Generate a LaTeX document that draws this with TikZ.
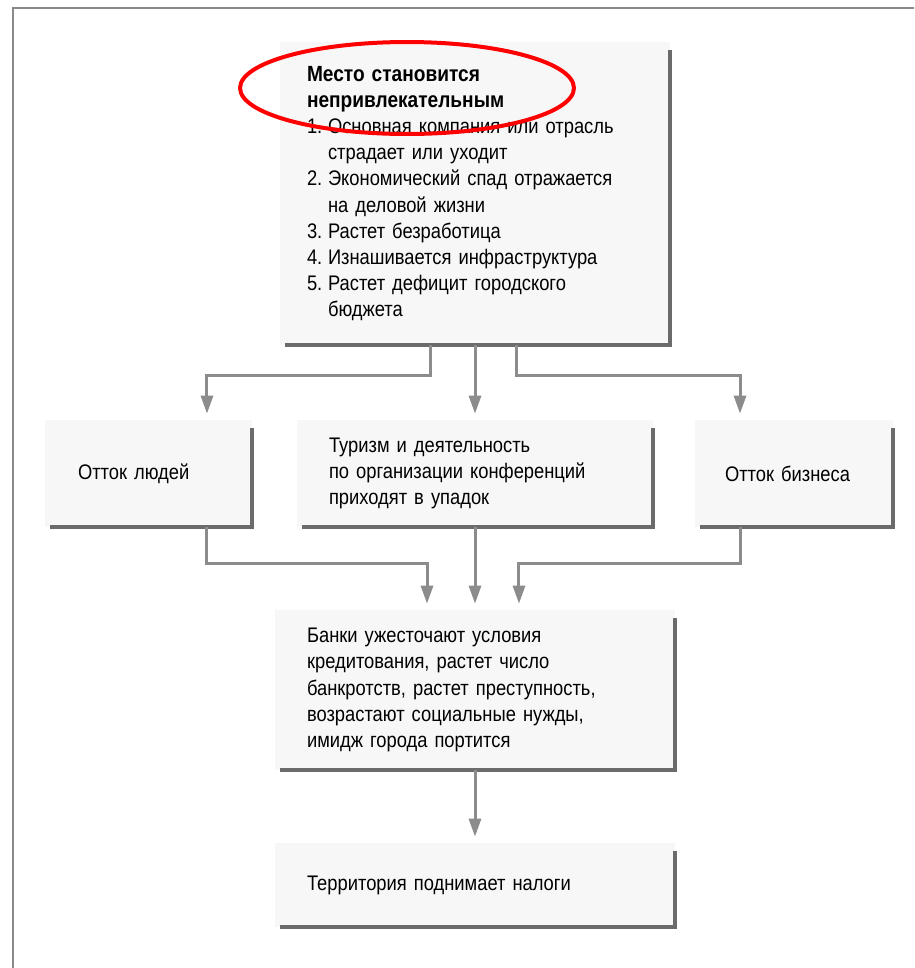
\documentclass[tikz,border=0pt]{standalone}
\usepackage{fontspec}
\setmainfont{Liberation Sans}[FakeStretch=0.87]
\usepackage{xcolor}
\usepackage{tikz}
\usetikzlibrary{arrows.meta,calc,positioning}
\definecolor{rimgray}{gray}{0.42}
\definecolor{arrgray}{gray}{0.55}
\definecolor{panelfill}{gray}{0.968}
\newcommand{\nr}[1]{\makebox[0.42cm][l]{#1}}

\begin{document}
\begin{tikzpicture}[x=0.02cm,y=-0.02cm,
  panel/.style={fill=panelfill,align=left,inner ysep=0pt,inner xsep=0.64cm,
                font=\fontsize{12}{14.9}\selectfont},
  rim/.style={draw=rimgray,line width=0.08cm},
  arr/.style={draw=arrgray,line width=0.06cm,shorten >=0.12cm,
              -{Triangle[length=0.36cm,width=0.24cm]}}]
  \useasboundingbox (0,0) rectangle (914,968);
  \draw[draw=rimgray!80,line width=0.045cm] (13,968) -- (13,8) -- (914,8);
  % boxes
  \node[panel,text width=6.72cm,minimum height=6.06cm,inner xsep=0.54cm] (top) at (475,193.5)
    {{\fontsize{12.5}{15.9}\selectfont\bfseries Место становится\\ непривлекательным}\\
     \nr{1.}Основная компания или отрасль\\ \nr{}страдает или уходит\\
     \nr{2.}Экономический спад отражается\\ \nr{}на деловой жизни\\
     \nr{3.}Растет безработица\\
     \nr{4.}Изнашивается инфраструктура\\
     \nr{5.}Растет дефицит городского\\ \nr{}бюджета};
  \node[panel,text width=2.82cm,minimum height=2.14cm,inner xsep=0.66cm] (left) at (148.5,473.5) {Отток людей};
  \node[panel,text width=5.84cm,minimum height=2.14cm] (mid) at (475,473.5)
    {Туризм и деятельность\\ по организации конференций\\ приходят в упадок};
  \node[panel,text width=2.76cm,minimum height=2.14cm,inner xsep=0.6cm] (right) at (794,473.5) {Отток бизнеса};
  \node[panel,text width=6.72cm,minimum height=3.2cm] (banks) at (475,690)
    {Банки ужесточают условия\\ кредитования, растет число\\ банкротств, растет преступность,\\
     возрастают социальные нужды,\\ имидж города портится};
  \node[panel,text width=6.72cm,minimum height=1.68cm] (taxes) at (475,885) {Территория поднимает налоги};
  \foreach \n in {top,left,mid,right,banks,taxes}
    \draw[rim] ([yshift=-0.16cm]\n.north east) -- (\n.south east) -- ([xshift=0.1cm]\n.south west);
  % connectors
  \draw[arr] ([xshift=-0.9cm]top.south) -- ++(0,30) -| ([xshift=1.17cm]left.north);
  \draw[arr] (top.south) -- (mid.north);
  \draw[arr] ([xshift=0.84cm]top.south) -- ++(0,30) -| ([xshift=-1.08cm]right.north);
  \draw[arr] ([xshift=1.17cm]left.south) -- ++(0,36) -| ([xshift=-0.96cm]banks.north);
  \draw[arr] (mid.south) -- (banks.north);
  \draw[arr] ([xshift=-1.08cm]right.south) -- ++(0,36) -| ([xshift=0.88cm]banks.north);
  \draw[arr] (banks.south) -- (taxes.north);
  % highlight
  \draw[red,line width=0.08cm] (407,88) ellipse [x radius=3.34cm,y radius=0.92cm];
\end{tikzpicture}
\end{document}
